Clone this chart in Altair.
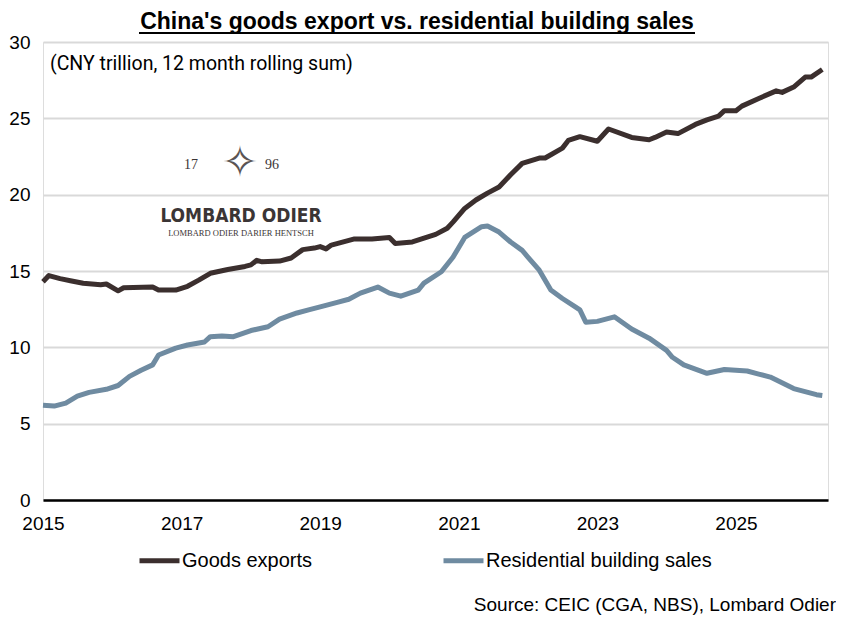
import altair as alt
import pandas as pd

# ---- data (CNY trillion, 12 month rolling sum) ----
goods_dates = ["2015-01", "2015-02", "2015-04", "2015-06", "2015-08", "2015-11", "2015-12",
               "2016-02", "2016-03", "2016-08", "2016-09", "2016-12", "2017-02", "2017-04",
               "2017-06", "2017-09", "2017-12", "2018-01", "2018-02", "2018-03", "2018-06",
               "2018-08", "2018-10", "2018-12", "2019-01", "2019-02", "2019-03", "2019-07",
               "2019-10", "2020-01", "2020-02", "2020-05", "2020-09", "2020-11", "2020-12",
               "2021-02", "2021-04", "2021-06", "2021-08", "2021-10", "2021-12", "2022-03",
               "2022-04", "2022-07", "2022-08", "2022-10", "2023-01", "2023-03", "2023-07",
               "2023-10", "2023-11", "2024-01", "2024-03", "2024-06", "2024-08", "2024-10",
               "2024-11", "2025-01", "2025-02", "2025-05", "2025-08", "2025-09", "2025-11",
               "2026-01", "2026-02", "2026-04"]
goods_values = [14.3, 14.7, 14.5, 14.35, 14.2, 14.1, 14.15,
                13.7, 13.9, 13.95, 13.75, 13.75, 14.0, 14.4,
                14.85, 15.1, 15.3, 15.4, 15.7, 15.6, 15.65,
                15.85, 16.4, 16.5, 16.6, 16.45, 16.7, 17.1,
                17.1, 17.2, 16.8, 16.9, 17.4, 17.8, 18.2,
                19.1, 19.65, 20.1, 20.5, 21.3, 22.05, 22.4,
                22.4, 23.05, 23.55, 23.8, 23.5, 24.3, 23.75,
                23.6, 23.75, 24.1, 24.0, 24.6, 24.9, 25.15,
                25.5, 25.5, 25.8, 26.3, 26.8, 26.7, 27.05,
                27.7, 27.7, 28.2]

res_dates = ["2015-01", "2015-03", "2015-05", "2015-07", "2015-09", "2015-12", "2016-02",
             "2016-04", "2016-06", "2016-08", "2016-09", "2016-12", "2017-02", "2017-05",
             "2017-06", "2017-08", "2017-10", "2018-01", "2018-04", "2018-06", "2018-09",
             "2018-11", "2019-01", "2019-04", "2019-06", "2019-08", "2019-11", "2020-01",
             "2020-03", "2020-06", "2020-07", "2020-10", "2020-12", "2021-02", "2021-05",
             "2021-06", "2021-08", "2021-10", "2021-12", "2022-01", "2022-03", "2022-05",
             "2022-07", "2022-09", "2022-10", "2022-11", "2023-01", "2023-04", "2023-07",
             "2023-10", "2024-01", "2024-02", "2024-04", "2024-08", "2024-11", "2025-03",
             "2025-05", "2025-07", "2025-11", "2026-03", "2026-04"]
res_values = [6.2, 6.15, 6.35, 6.8, 7.05, 7.25, 7.5,
              8.1, 8.5, 8.85, 9.5, 9.95, 10.15, 10.35,
              10.7, 10.75, 10.7, 11.1, 11.35, 11.85, 12.25,
              12.45, 12.65, 12.95, 13.15, 13.55, 13.95, 13.55,
              13.35, 13.75, 14.2, 14.95, 15.9, 17.2, 17.9,
              17.95, 17.55, 16.9, 16.35, 15.9, 15.05, 13.75,
              13.2, 12.7, 12.45, 11.65, 11.7, 12.0, 11.2,
              10.6, 9.8, 9.35, 8.85, 8.3, 8.55, 8.45,
              8.25, 8.05, 7.3, 6.9, 6.85]

series_names = ["Goods exports", "Residential building sales"]
series_colors = ["#3b2f2e", "#6f8ba1"]
y_ticks = [0, 5, 10, 15, 20, 25, 30]
x_tick_years = [2015, 2017, 2019, 2021, 2023, 2025]

title_text = "China's goods export vs. residential building sales"
subtitle_text = "(CNY trillion, 12 month rolling sum)"
source_text = "Source: CEIC (CGA, NBS), Lombard Odier"

df = pd.concat([
    pd.DataFrame({"date": pd.to_datetime(goods_dates), "value": goods_values, "series": series_names[0]}),
    pd.DataFrame({"date": pd.to_datetime(res_dates), "value": res_values, "series": series_names[1]}),
])

FONT = "Liberation Sans, Arial, sans-serif"
W, H = 785, 458

lines = alt.Chart(df).mark_line(strokeWidth=5, strokeJoin="round", strokeCap="butt").encode(
    x=alt.X("date:T",
            scale=alt.Scale(domain=[alt.DateTime(year=2015, month=1, date=1),
                                    alt.DateTime(year=2026, month=5, date=1)]),
            axis=alt.Axis(title=None, values=[alt.DateTime(year=y, month=1, date=1) for y in x_tick_years],
                          format="%Y", labelFont=FONT, labelFontSize=19, labelColor="black",
                          labelPadding=14, ticks=False, grid=False, domainColor="black",
                          domainWidth=2.5, zindex=1, labelFlush=False)),
    y=alt.Y("value:Q", scale=alt.Scale(domain=[0, 30], nice=False),
            axis=alt.Axis(title=None, values=y_ticks, labelFont=FONT, labelFontSize=19,
                          labelColor="black", labelPadding=13, ticks=False, domain=False,
                          grid=True, gridColor="#d9d9d9", gridWidth=2)),
    color=alt.Color("series:N",
                    scale=alt.Scale(domain=series_names, range=series_colors),
                    legend=alt.Legend(title=None, orient="none", legendX=94, legendY=496,
                                      direction="horizontal", symbolType="stroke",
                                      symbolStrokeWidth=5, symbolSize=1600,
                                      labelFont=FONT, labelFontSize=20, labelColor="black",
                                      labelOffset=0, columnPadding=120, labelLimit=400)),
)


def txt(text, x, y, **kw):
    return alt.Chart(pd.DataFrame({"t": [text]})).mark_text(**kw).encode(
        text="t:N", x=alt.value(x), y=alt.value(y))


one = pd.DataFrame({"a": [0]})
title = txt(title_text, 374, -13, font=FONT, fontSize=23, fontWeight="bold",
            color="black", align="center", baseline="alphabetic")
underline = alt.Chart(one).mark_rule(color="black", strokeWidth=2).encode(
    x=alt.value(96), x2=alt.value(652), y=alt.value(-9))
subtitle = txt(subtitle_text, 7, 28, font="Roboto", fontSize=19.5, color="black",
               align="left", baseline="alphabetic")
source = txt(source_text, 793, 569, font=FONT, fontSize=19, color="black",
             align="right", baseline="alphabetic")

# logo
logo_17 = txt("17", 148, 127, font="Liberation Serif", fontSize=14, color="#3b3535",
              align="center", baseline="alphabetic")
logo_96 = txt("96", 229, 127, font="Liberation Serif", fontSize=14, color="#3b3535",
              align="center", baseline="alphabetic")
logo_star = txt("\u2727", 197, 122, font="DejaVu Sans", fontSize=44, color="#5a5454",
                align="center", baseline="middle")
logo_name = txt("LOMBARD ODIER", 198, 180, font="DejaVu Sans Condensed, DejaVu Sans, sans-serif",
                fontSize=19, fontWeight="bold", color="#3b3535", align="center", baseline="alphabetic")
logo_sub = txt("LOMBARD ODIER DARIER HENTSCH", 198, 194, font="Liberation Serif", fontSize=8.5,
               color="#3b3535", align="center", baseline="alphabetic")

chart = alt.layer(lines, title, underline, subtitle, source,
                  logo_17, logo_96, logo_star, logo_name, logo_sub).properties(
    width=W, height=H,
    autosize=alt.AutoSizeParams(type="none"),
    padding={"left": 35, "top": 34, "right": 8, "bottom": 115},
).configure_view(stroke=None).configure(background="white")

chart.save("out.html", embed_options={"renderer": "svg", "actions": False})
